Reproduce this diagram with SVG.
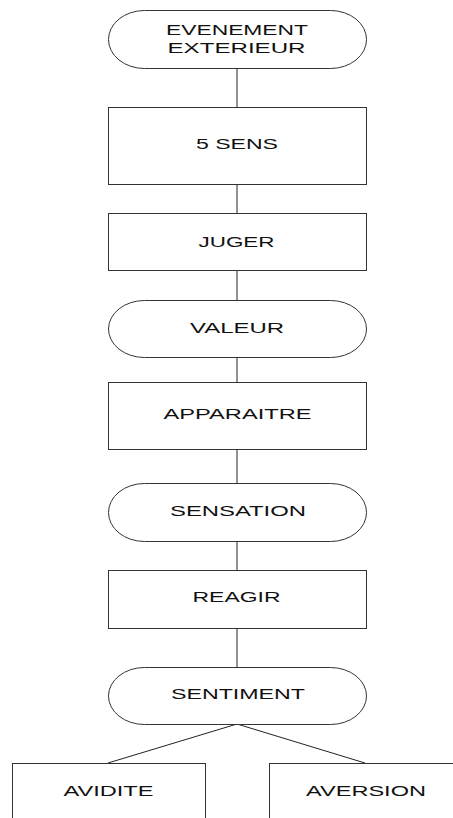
<svg xmlns="http://www.w3.org/2000/svg" width="453" height="818" viewBox="0 0 453 818">
<style>
.s{fill:#fff;stroke:#333;stroke-width:1}
.t{font-family:"Liberation Sans",Arial,sans-serif;font-size:14px;fill:#111;text-anchor:middle}
.c{stroke:#222;stroke-width:1;fill:none}
</style>
<rect width="453" height="818" fill="#fff"/>
<g id="connectors">
<line class="c" x1="237" y1="68" x2="237" y2="107"/>
<line class="c" x1="237" y1="184" x2="237" y2="213"/>
<line class="c" x1="237" y1="270" x2="237" y2="300"/>
<line class="c" x1="237" y1="358" x2="237" y2="382"/>
<line class="c" x1="237" y1="449" x2="237" y2="483"/>
<line class="c" x1="237" y1="542" x2="237" y2="570"/>
<line class="c" x1="237" y1="628" x2="237" y2="667"/>
<line class="c" x1="237" y1="724" x2="108" y2="763"/>
<line class="c" x1="237" y1="724" x2="365" y2="763"/>
</g>
<g id="evenement">
<rect class="s" x="108.5" y="10.5" width="258" height="58" rx="36" ry="29"/>
<text class="t" x="237" y="35" textLength="142" lengthAdjust="spacingAndGlyphs">EVENEMENT</text>
<text class="t" x="236.5" y="52.5" textLength="138" lengthAdjust="spacingAndGlyphs">EXTERIEUR</text>
</g>
<g id="sens">
<rect class="s" x="108.5" y="107.5" width="258" height="77"/>
<text class="t" x="237" y="149" textLength="82" lengthAdjust="spacingAndGlyphs">5 SENS</text>
</g>
<g id="juger">
<rect class="s" x="108.5" y="213.5" width="258" height="57"/>
<text class="t" x="236.5" y="247" textLength="76" lengthAdjust="spacingAndGlyphs">JUGER</text>
</g>
<g id="valeur">
<rect class="s" x="108.5" y="300.5" width="258" height="57" rx="36" ry="28.5"/>
<text class="t" x="237" y="333" textLength="94" lengthAdjust="spacingAndGlyphs">VALEUR</text>
</g>
<g id="apparaitre">
<rect class="s" x="108.5" y="382.5" width="258" height="67"/>
<text class="t" x="237.5" y="419" textLength="148" lengthAdjust="spacingAndGlyphs">APPARAITRE</text>
</g>
<g id="sensation">
<rect class="s" x="108.5" y="483.5" width="258" height="58" rx="36" ry="29"/>
<text class="t" x="238" y="516" textLength="136" lengthAdjust="spacingAndGlyphs">SENSATION</text>
</g>
<g id="reagir">
<rect class="s" x="108.5" y="570.5" width="258" height="58"/>
<text class="t" x="236.5" y="602" textLength="88" lengthAdjust="spacingAndGlyphs">REAGIR</text>
</g>
<g id="sentiment">
<rect class="s" x="108.5" y="667.5" width="258" height="57" rx="36" ry="28.5"/>
<text class="t" x="238" y="699" textLength="134" lengthAdjust="spacingAndGlyphs">SENTIMENT</text>
</g>
<g id="avidite">
<rect class="s" x="12.5" y="763.5" width="193" height="70"/>
<text class="t" x="108.5" y="796" textLength="90" lengthAdjust="spacingAndGlyphs">AVIDITE</text>
</g>
<g id="aversion">
<rect class="s" x="269.5" y="763.5" width="193" height="70"/>
<text class="t" x="366" y="796" textLength="120" lengthAdjust="spacingAndGlyphs">AVERSION</text>
</g>
</svg>
